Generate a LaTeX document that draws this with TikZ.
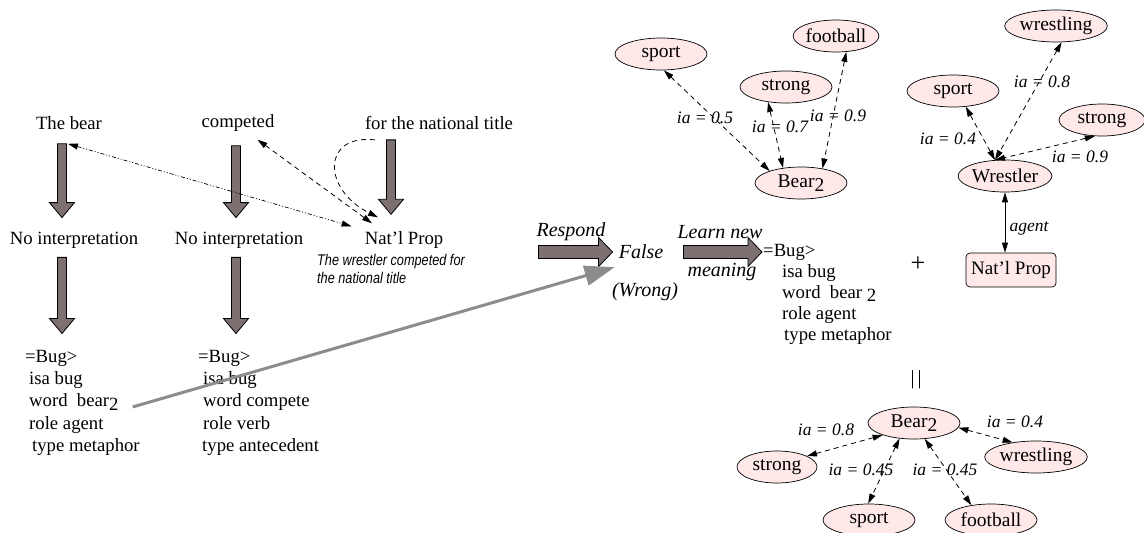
\documentclass[tikz,border=0pt]{standalone}
\usepackage{fontspec}
\setmainfont{Liberation Serif}
\newfontfamily\notefont[FakeStretch=0.82]{Liberation Sans}
\usetikzlibrary{shapes.geometric,arrows.meta,calc}

\definecolor{blockfill}{RGB}{125,112,112}
\definecolor{nodepink}{RGB}{255,232,232}
\definecolor{linkgrey}{RGB}{140,140,140}

% lowered "2" used for sense indices
\newcommand\subtwo{\raisebox{-0.45ex}{2}}

% fat downward arrow between two points (only x of the first point is used)
\newcommand\downblock[2]{%
  \filldraw[blockarrow] let \p1=(#1), \p2=(#2) in
    (\x1-4.5pt,\y1) -- (\x1+4.5pt,\y1) -- (\x1+4.5pt,\y2+15pt) -- (\x1+12.5pt,\y2+15pt)
    -- (\x1,\y2) -- (\x1-12.5pt,\y2+15pt) -- (\x1-4.5pt,\y2+15pt) -- cycle;}
% fat rightward arrow between two points (only x of the second point is used)
\newcommand\rightblock[2]{%
  \filldraw[blockarrow] let \p1=(#1), \p2=(#2) in
    (\x1,\y1+6.5pt) -- (\x2-14pt,\y1+6.5pt) -- (\x2-14pt,\y1+14.5pt) -- (\x2,\y1)
    -- (\x2-14pt,\y1-14.5pt) -- (\x2-14pt,\y1-6.5pt) -- (\x1,\y1-6.5pt) -- cycle;}

\begin{document}
\begin{tikzpicture}[x=1pt,y=-1pt,
  txt/.style={inner sep=0pt, font=\fontsize{18.7}{22.5}\selectfont},
  lbl/.style={inner sep=0pt, font=\fontsize{17.5}{20}\selectfont\itshape},
  biglbl/.style={inner sep=0pt, font=\fontsize{20}{22}\selectfont\itshape},
  note/.style={inner sep=0pt, anchor=base west, font=\fontsize{15.5}{17}\notefont\itshape},
  concept/.style={ellipse, draw, fill=nodepink, line width=0.7pt, minimum width=92pt,
    minimum height=32pt, inner sep=0pt, font=\fontsize{19.5}{21}\selectfont},
  blockarrow/.style={fill=blockfill, draw=black, line width=0.8pt},
  assoc/.style={line width=0.8pt, dash pattern=on 5pt off 4pt, {Triangle[length=10pt,width=6pt]}-{Triangle[length=10pt,width=6pt]}},
  dotlink/.style={line width=0.7pt, dash pattern=on 4pt off 2pt on 1pt off 2pt on 1pt off 2pt,
    {Triangle[length=10pt,width=6pt]}-{Triangle[length=10pt,width=6pt]}},
  greylink/.style={draw=linkgrey, line width=3pt, -{Triangle[length=30pt,width=20pt]}},
]
\useasboundingbox (0,0) rectangle (1144,533);

% ---- sentence words and their interpretations
\node[txt] (bear) at (69,123) {The bear};
\node[txt] (competed) at (238,123) {competed};
\node[txt] (title) at (439,123) {for the national title};
\node[txt] (noint1) at (74,240) {No interpretation};
\node[txt] (noint2) at (239,240) {No interpretation};
\node[txt] (natprop) at (404,240) {Nat’l Prop};
\node[note] (note1) at (317,265) {The wrestler competed for};
\node[note] (note2) at (317,283) {the national title};

% ---- bug frames
\node[txt, anchor=base west] (lb1) at (25,362) {=Bug>};
\node[txt, anchor=base west] (lb2) at (29,384) {isa bug};
\node[txt, anchor=base west] (lb3) at (29,406.5) {word\ \ bear\subtwo};
\node[txt, anchor=base west] (lb4) at (29,429) {role agent};
\node[txt, anchor=base west] (lb5) at (32,451) {type metaphor};

\node[txt, anchor=base west] (mb1) at (198,362) {=Bug>};
\node[txt, anchor=base west] (mb2) at (203,384) {isa bug};
\node[txt, anchor=base west] (mb3) at (203,406.5) {word compete};
\node[txt, anchor=base west] (mb4) at (203,429) {role verb};
\node[txt, anchor=base west] (mb5) at (202,451) {type antecedent};

\node[txt, anchor=base west] (rb1) at (763,256) {=Bug>};
\node[txt, anchor=base west] (rb2) at (782,277) {isa bug};
\node[txt, anchor=base west] (rb3) at (782,298) {word\ \ bear \subtwo};
\node[txt, anchor=base west] (rb4) at (782,319) {role agent};
\node[txt, anchor=base west] (rb5) at (784,340) {type metaphor};

% ---- fat processing arrows
\downblock{$(bear.south)+(-7,14)$}{$(noint1.north)+(-12,-14)$}
\downblock{$(competed.south)+(-2,14)$}{$(noint2.north)+(-3,-14)$}
\downblock{$(title.south)+(-48,10)$}{$(natprop.north)+(-13,-17)$}
\downblock{$(noint1.south)+(-12,9)$}{$(lb1.north)+(37,-16)$}
\downblock{$(noint2.south)+(-3,9)$}{$(mb1.north)+(38,-16)$}

% ---- links among the words
\draw[dotlink] ($(bear.south)+(-1,14)$) -- ($(natprop.north west)+(-13,-5)$);
\draw[assoc] ($(competed.south east)+(-17,8)$) -- ($(natprop.north)+(-32,-8)$);
\draw[line width=0.8pt, dash pattern=on 5pt off 4pt, -{Triangle[length=10pt,width=6pt]}]
  ($(title.south west)+(10,10)$) .. controls +(-53,-6) and +(-56,-28) .. ($(natprop.north)+(-26,-14)$);

% ---- response
\node[biglbl] (false) at (641,252) {False};
\node[biglbl] (wrong) at (645,292) {(Wrong)};
\node[biglbl] (respond) at (571,232) {Respond};
\node[biglbl] (learn) at (720,232) {Learn new};
\node[biglbl] (meaning) at (722,272) {meaning};
\rightblock{$(false.west)+(-80,0)$}{$(false.west)+(-6,0)$}
\rightblock{$(false.east)+(20,0)$}{$(rb1.west)+(-1,0)$}
\draw[greylink] ($(lb3.east)+(14,5)$) -- ($(false.south west)+(-4,8)$);

% ---- sense network of bear_2 before learning
\node[concept] (tsport) at (661,54) {sport};
\node[concept] (tstrong) at (786,87) {strong};
\node[concept, minimum width=82pt] (tfootball) at (836,36) {football};
\node[concept] (tbear) at (801,183) {Bear\subtwo};
\draw[assoc] (tsport.-80) -- (tbear.159);
\draw[assoc] (tstrong.-140) -- (tbear.140);
\draw[assoc] (tfootball.-57) -- (tbear.34);
\node[lbl] at (705,118) {ia = 0.5};
\node[lbl] at (780,127) {ia = 0.7};
\node[lbl] at (838,116) {ia = 0.9};

% ---- the wrestler concept
\node[concept, minimum width=94pt] (rwrestling) at (1056,26) {wrestling};
\node[concept] (rsport) at (953,91) {sport};
\node[concept, minimum width=86pt] (rstrong) at (1102,120) {strong};
\node[concept] (wrestler) at (1005,176) {Wrestler};
\draw[assoc] (rsport.-51) -- (wrestler.122);
\draw[assoc] (rwrestling.-71) -- (wrestler.122);
\draw[assoc] (rstrong.-114) -- (wrestler.122);
\node[lbl] at (948,139) {ia = 0.4};
\node[lbl] at (1042,82) {ia = 0.8};
\node[lbl] at (1080,157) {ia = 0.9};

\node[draw, fill=nodepink, rounded corners=4pt, line width=0.7pt, minimum width=90pt,
  minimum height=34pt, inner sep=0pt, font=\fontsize{19}{21}\selectfont] (natbox) at (1011,270)
  {\raisebox{-3pt}{Nat’l Prop}};
\draw[line width=0.8pt, {Triangle[length=10pt,width=6pt]}-{Triangle[length=10pt,width=6pt]}]
  (wrestler.south) -- (wrestler.south |- natbox.north);
\node[lbl] (agent) at (1029,228) {agent};

\node[inner sep=0pt, font=\fontsize{26}{28}\selectfont] (plus) at (918,264) {+};
\node[inner sep=0pt, font=\fontsize{20}{22}\selectfont] (equals) at (916,380) {|\kern3pt|};

% ---- sense network of bear_2 after learning
\node[concept] (bbear) at (914,423) {Bear\subtwo};
\node[concept, minimum width=80pt] (bstrong) at (777,467) {strong};
\node[concept] (bwrestling) at (1036,457) {wrestling};
\node[concept] (bsport) at (869,520) {sport};
\node[concept] (bfootball) at (991,520) {football};
\draw[assoc] (bbear.-159) -- (bstrong.20);
\draw[assoc] (bbear.-133) -- (bsport.93);
\draw[assoc] (bbear.-56) -- (bfootball.143);
\draw[assoc] (bbear.-6) -- (bwrestling.148);
\node[lbl] at (826,430) {ia = 0.8};
\node[lbl] at (861,470) {ia = 0.45};
\node[lbl] at (945,470) {ia = 0.45};
\node[lbl] at (1015,422) {ia = 0.4};
\end{tikzpicture}
\end{document}
